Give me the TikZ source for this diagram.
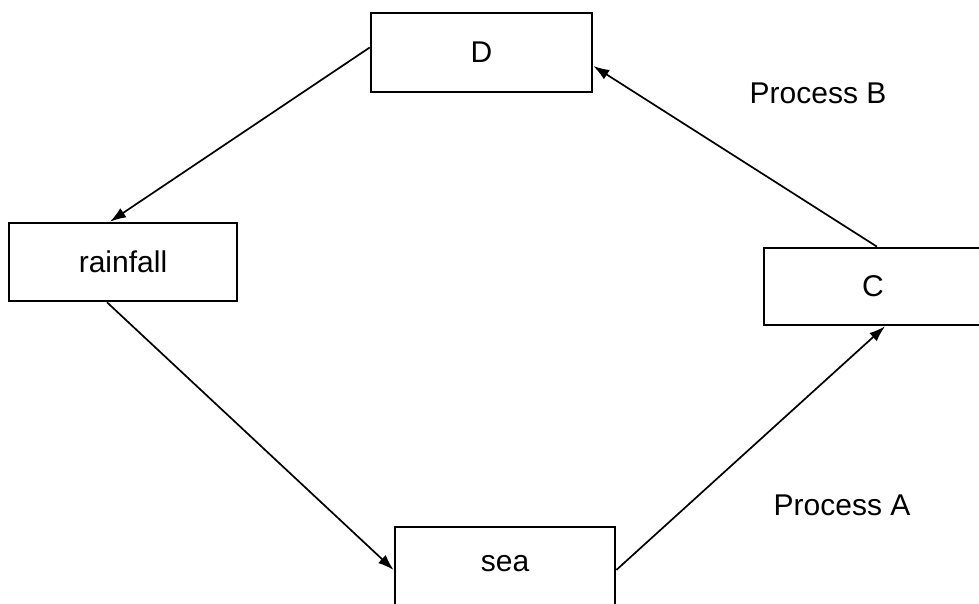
\documentclass[tikz,border=0pt]{standalone}
\usepackage{fontspec}
\setmainfont{Liberation Sans}
\usetikzlibrary{arrows.meta}
\begin{document}
\begin{tikzpicture}[x=1pt,y=-1pt,
  box/.style={draw=black,line width=2.6pt,minimum width=#1,inner sep=0pt,font=\fontsize{30}{36}\selectfont},
  lbl/.style={inner sep=0pt,font=\fontsize{30}{36}\selectfont},
  conn/.style={line width=1.7pt,-{Latex[length=16pt,width=11pt]}}]
\useasboundingbox (0,0) rectangle (979,603);
\clip (0,0) rectangle (979,603);
\fill[white] (0,0) rectangle (979,603);
\node[box=221pt,minimum height=79pt] (D) at (481.5,52.5) {D};
\node[box=228pt,minimum height=78pt] (rain) at (123,262) {rainfall};
\node[box=218pt,minimum height=77pt] (C) at (873,286.5) {C};
\node[box=220pt,minimum height=80pt,text depth=0pt] (sea) at (505,567) {\raisebox{7pt}{sea}};
\node[lbl] (pb) at (818,93) {Process B};
\node[lbl] (pa) at (842,505) {Process A};
\draw[conn] ([yshift=5pt]D.west) -- ([xshift=-13pt]rain.north);
\draw[conn] ([xshift=-16pt]rain.south) -- ([yshift=-3pt]sea.west);
\draw[conn] ([yshift=-3pt]sea.east) -- ([xshift=12pt]C.south);
\draw[conn] ([xshift=4pt]C.north) -- ([yshift=-13.5pt]D.east);
\end{tikzpicture}
\end{document}
